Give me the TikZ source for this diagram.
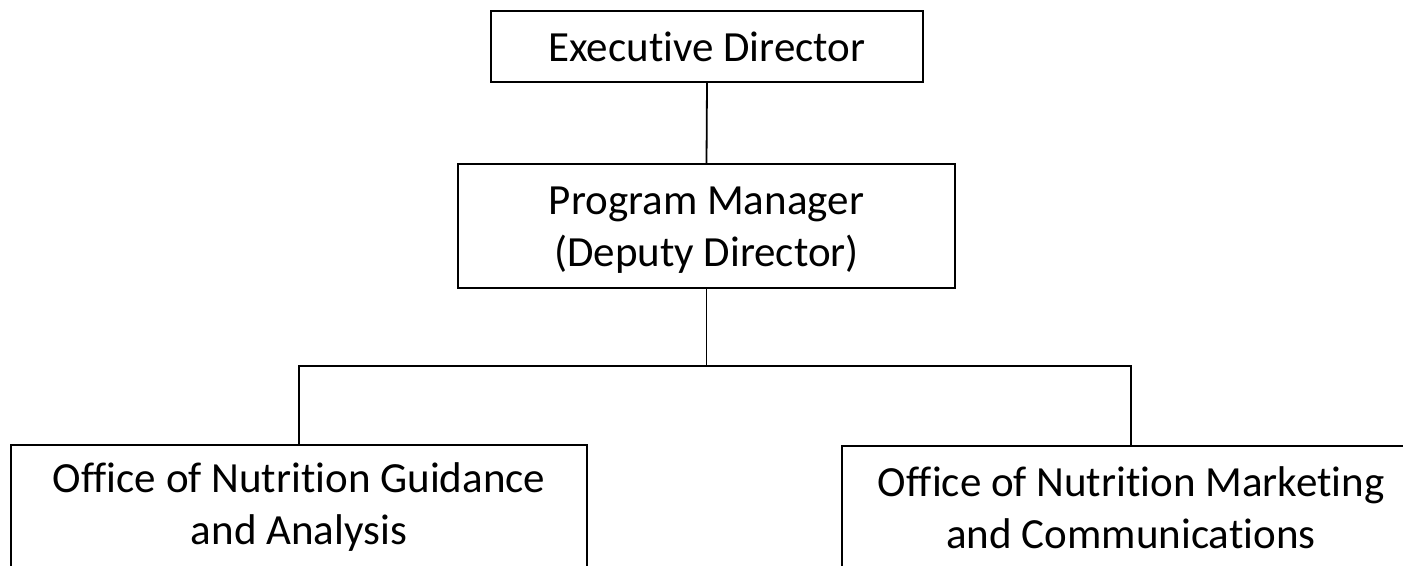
\documentclass[tikz,border=0pt]{standalone}
\usepackage{fontspec}
\setmainfont{Carlito}[Ligatures={NoCommon}]
\begin{document}
\begin{tikzpicture}[x=1pt,y=-1pt,
  box/.style={draw=black, line width=1.8pt, align=center, font=\fontsize{43}{52}\selectfont, inner sep=0pt},
  link/.style={line width=1.8pt}]
\useasboundingbox (0,0) rectangle (1403,565);
\clip (0,0) rectangle (1403,565);
\node[box, minimum width=432pt, minimum height=71pt] (ed) at (707,46.5) {Executive Director};
\node[box, minimum width=497pt, minimum height=124pt] (pm) at (706.5,226) {\rule{0pt}{36pt}Program Manager\\(Deputy Director)};
\node[box, minimum width=576pt, minimum height=124pt] (ga) at (299,507) {Office of Nutrition Guidance\\and Analysis};
\node[box, minimum width=578pt, minimum height=124pt] (mc) at (1131,508) {Office of Nutrition Marketing\\and Communications};
\coordinate (bus) at (0,366);
\draw[link] (ed.south) -- (pm.north);
\draw[link] (pm.south) -- (pm.south |- bus);
\draw[link] (ga.north) -- (ga.north |- bus) -- (mc.north |- bus) -- (mc.north);
\end{tikzpicture}
\end{document}
